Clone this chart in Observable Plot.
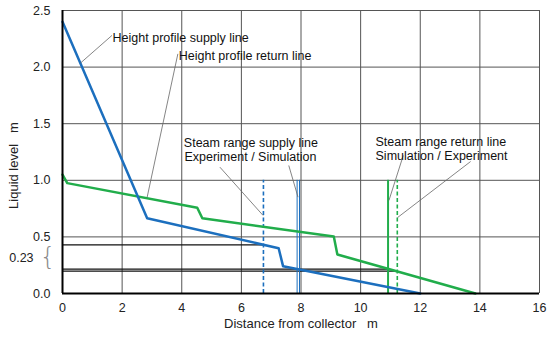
<!DOCTYPE html>
<html>
<head>
<meta charset="utf-8">
<script src="https://cdn.jsdelivr.net/npm/d3@7"></script>
<script src="https://cdn.jsdelivr.net/npm/@observablehq/plot@0.6"></script>
<style>
  html, body { margin: 0; padding: 0; background: #fff; }
  svg text { white-space: pre; }
</style>
</head>
<body>
<div id="chart"></div>
<script>
// ---- data ----
const xTicks = [0, 2, 4, 6, 8, 10, 12, 14, 16];
const yTicks = [0, 0.5, 1.0, 1.5, 2.0, 2.5];
const xLabel = "Distance from collector   m";
const yLabel = "Liquid level   m";

// Height profile supply line (blue)
const supplyX = [0, 2.84, 7.25, 7.4, 12];
const supplyY = [2.4, 0.665, 0.40, 0.24, 0];

// Height profile return line (green)
const returnX = [0, 0.16, 4.52, 4.69, 9.1, 9.22, 13.85];
const returnY = [1.05, 0.975, 0.757, 0.665, 0.503, 0.345, 0];

// Steam range markers (vertical lines)
const steamTop = 1.0;
const supplyExperimentX = 6.74;
const supplySimulationX = [7.87, 7.95];
const returnSimulationX = 10.92;
const returnExperimentX = 11.23;

// Black liquid level lines
const levelY = [0.43, 0.215, 0.197];
const levelEnd = [6.74, 10.92, 11.23];

// Difference label
const diffLabel = "0.23";
const diffY = 0.315;

// Annotations
const annoText = [
  "Height profile supply line",
  "Height profile return line",
  "Steam range supply line",
  "Experiment / Simulation",
  "Steam range return line",
  "Simulation / Experiment"
];
const annoX = [1.68, 3.9, 4.07, 4.09, 10.5, 10.5];
const annoY = [2.255, 2.10, 1.33, 1.205, 1.335, 1.215];

// Leader lines: start -> end
const leadX1 = [1.66, 3.87, 5.28, 7.59, 11.43, 13.69];
const leadY1 = [2.28, 2.117, 1.116, 1.131, 1.219, 1.166];
const leadX2 = [0.6, 2.84, 6.73, 7.90, 10.95, 11.24];
const leadY2 = [2.035, 0.851, 0.689, 0.851, 0.822, 0.671];

// ---- build tables ----
const supply = supplyX.map((x, i) => ({x, y: supplyY[i]}));
const ret = returnX.map((x, i) => ({x, y: returnY[i]}));
const levels = levelY.map((y, i) => ({y, x2: levelEnd[i]}));
const annos = annoText.map((t, i) => ({t, x: annoX[i], y: annoY[i]}));
const leads = leadX1.map((x1, i) => ({x1, y1: leadY1[i], x2: leadX2[i], y2: leadY2[i]}));

const blue = "#1c6fbe";
const green = "#21ad4b";
const grid = "#555";
const font = "'Liberation Sans', Arial, sans-serif";

const chart = Plot.plot({
  width: 550,
  height: 341,
  marginLeft: 62,
  marginRight: 11,
  marginTop: 10,
  marginBottom: 48,
  style: {fontFamily: font, fontSize: "12px", color: "#222", background: "#fff"},
  x: {domain: [0, 16]},
  y: {domain: [0, 2.5]},
  marks: [
    // grid
    Plot.ruleX(xTicks.slice(1), {stroke: grid, strokeWidth: 1}),
    Plot.ruleY(yTicks.slice(1), {stroke: grid, strokeWidth: 1}),
    // axes
    Plot.axisX(xTicks, {tickSize: 0, tickPadding: 10, fontSize: 12.5, label: null}),
    Plot.axisY(yTicks, {tickSize: 0, tickPadding: 12, fontSize: 12.5,
      tickFormat: d3.format(".1f"), label: null}),
    Plot.text([xLabel], {frameAnchor: "bottom", dy: 34, fontSize: 13, fill: "#222"}),
    Plot.text([yLabel], {x: () => -1.62, y: () => 1.13, rotate: -90,
      fontSize: 13, fill: "#222", clip: false}),
    // level lines
    Plot.ruleY(levels, {y: "y", x1: 0, x2: "x2", stroke: "#111", strokeWidth: 1.3}),
    // steam range verticals
    Plot.ruleX([supplyExperimentX], {y1: 0, y2: steamTop, stroke: blue, strokeWidth: 1.6, strokeDasharray: "4,2.5"}),
    Plot.ruleX(supplySimulationX, {y1: 0, y2: steamTop, stroke: blue, strokeWidth: 1}),
    Plot.ruleX([returnSimulationX], {y1: 0, y2: steamTop, stroke: green, strokeWidth: 2}),
    Plot.ruleX([returnExperimentX], {y1: 0, y2: steamTop, stroke: green, strokeWidth: 1.6, strokeDasharray: "4,2.5"}),
    // profiles
    Plot.line(ret, {x: "x", y: "y", stroke: green, strokeWidth: 2.5}),
    Plot.line(supply, {x: "x", y: "y", stroke: blue, strokeWidth: 2.5}),
    // frame axes lines
    Plot.ruleY([0], {stroke: "#000", strokeWidth: 2}),
    Plot.ruleX([0], {stroke: "#000", strokeWidth: 2}),
    // leaders
    Plot.link(leads, {x1: "x1", y1: "y1", x2: "x2", y2: "y2", stroke: "#666", strokeWidth: 0.8}),
    // annotation text
    Plot.text(annos, {x: "x", y: "y", text: "t", textAnchor: "start", fontSize: 12.5, fill: "#111"}),
    // difference brace and label
    Plot.text([diffLabel], {x: -0.97, y: diffY, textAnchor: "end", fontSize: 12.5, fill: "#222", clip: false}),
    Plot.text(["{"], {x: -0.5, y: diffY, dy: -1, fontSize: 25, fontFamily: "'DejaVu Sans'", fontWeight: 200, fill: "#8a8a8a", clip: false})
  ]
});
document.getElementById("chart").appendChild(chart);
</script>
</body>
</html>
